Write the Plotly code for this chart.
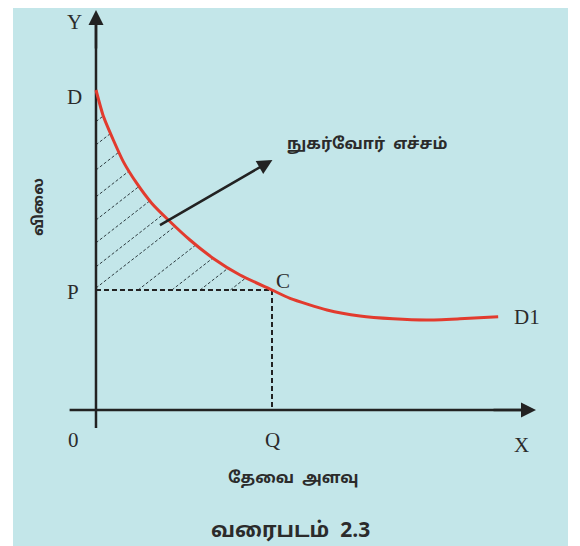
import numpy as np
import plotly.graph_objects as go

# demand curve D -> C -> D1 (price against quantity demanded)
curve_x = [0, 0.166, 0.394, 0.621, 0.925, 1.266, 1.644, 2.136, 2.667, 3.273, 4.0, 4.41, 5.25, 6.0, 6.75, 7.52, 8.27, 9.14]
curve_y = [8.0, 7.35, 6.75, 6.21, 5.67, 5.17, 4.75, 4.25, 3.79, 3.375, 3.0, 2.79, 2.5, 2.35, 2.28, 2.25, 2.28, 2.33]

# market price P and quantity Q (point C)
price_p = 3.0
qty_q = 4.0

# hatching of the consumer surplus: slope and offsets where each line crosses x=0
hatch_slope = 0.858
hatch_offsets = [7.21, 6.63, 6.0, 5.33, 4.75, 4.18, 3.58, 3.05, 2.18, 1.52, 0.97, 0.38]

# consumer surplus arrow: tail and head
surplus_tail = (1.42, 4.6)
surplus_head = (4.01, 6.25)

# axis extents (origin at 0,0)
x_axis_ends = (-0.6, 10.0)
y_axis_ends = (-0.45, 10.0)

point_labels = ["Y", "D", "P", "0", "Q", "X", "C", "D1"]
point_label_x = [-0.48, -0.48, -0.52, -0.5, 4.02, 9.68, 4.25, 9.8]
point_label_y = [9.7, 7.83, 2.95, -0.75, -0.75, -0.88, 3.23, 2.33]

AXIS_COL = "#222222"
TEXT_COL = "#2b2b2b"
CURVE_COL = "#e23b2e"
BG_COL = "#c3e6e9"
TAMIL_FONT = "Noto Sans Tamil, Noto Sans, Lato, sans-serif"
SP = "\u00a0\u00a0"

fig = go.Figure()

# hatch segments: from the P line / y axis up to where they meet the curve
grid = np.linspace(0, qty_q, 800)
curve_on_grid = np.interp(grid, curve_x, curve_y)
hx, hy = [], []
for b in hatch_offsets:
    x0 = max(0.0, (price_p - b) / hatch_slope)
    above = np.nonzero(b + hatch_slope * grid >= curve_on_grid)[0]
    if len(above) == 0:
        continue
    x1 = grid[above[0]]
    if x1 <= x0:
        continue
    hx += [x0, x1, None]
    hy += [b + hatch_slope * x0, b + hatch_slope * x1, None]
fig.add_trace(go.Scatter(
    x=hx, y=hy, mode="lines",
    line=dict(color="#2f3d42", width=1, dash="3px,2px"),
    hoverinfo="skip", showlegend=False,
))

# dashed guides P-C and C-Q
fig.add_trace(go.Scatter(
    x=[0, qty_q, qty_q], y=[price_p, price_p, 0],
    mode="lines",
    line=dict(color=AXIS_COL, width=2, dash="5px,3px"),
    hoverinfo="skip",
    showlegend=False,
))

# axes lines
fig.add_trace(go.Scatter(
    x=[x_axis_ends[0], x_axis_ends[1] - 0.2], y=[0, 0],
    mode="lines", line=dict(color=AXIS_COL, width=2.5),
    hoverinfo="skip", showlegend=False,
))
fig.add_trace(go.Scatter(
    x=[0, 0], y=[y_axis_ends[0], y_axis_ends[1] - 0.2],
    mode="lines", line=dict(color=AXIS_COL, width=2.5),
    hoverinfo="skip", showlegend=False,
))

# demand curve
fig.add_trace(go.Scatter(
    x=curve_x, y=curve_y,
    mode="lines",
    line=dict(color=CURVE_COL, width=3, shape="spline", smoothing=0.6),
    hoverinfo="skip",
    showlegend=False,
))

# arrowheads on the axes and the surplus pointer
arrows = [
    ((x_axis_ends[1], 0), (x_axis_ends[1] - 1.0, 0)),
    ((0, y_axis_ends[1]), (0, y_axis_ends[1] - 1.0)),
    (surplus_head, surplus_tail),
]
for (ex, ey), (tx, ty) in arrows:
    fig.add_annotation(
        x=ex, y=ey, ax=tx, ay=ty, xref="x", yref="y", axref="x", ayref="y",
        text="", showarrow=True, arrowhead=2, arrowsize=1.2, arrowwidth=2.5,
        arrowcolor=AXIS_COL, standoff=0, startstandoff=0,
    )

# point letters
for lab, lx, ly in zip(point_labels, point_label_x, point_label_y):
    fig.add_annotation(
        x=lx, y=ly, text=lab, showarrow=False,
        font=dict(family="Liberation Serif, serif", size=21, color=TEXT_COL),
        xanchor="center", yanchor="middle",
    )

# Tamil labels
fig.add_annotation(x=6.16, y=6.63, text="<b>நுகர்வோர்" + SP + "எச்சம்</b>", showarrow=False,
                   font=dict(family=TAMIL_FONT, size=16, color=TEXT_COL))
fig.add_annotation(x=4.48, y=-1.72, text="<b>தேவை" + SP + "அளவு</b>", showarrow=False,
                   font=dict(family=TAMIL_FONT, size=16, color=TEXT_COL))
fig.add_annotation(x=-1.27, y=5.08, text="<b>விலை</b>", showarrow=False, textangle=-90,
                   font=dict(family=TAMIL_FONT, size=15, color=TEXT_COL))
fig.add_annotation(x=4.41, y=-3.05, text="<b>வரைபடம்" + SP + "2.3</b>", showarrow=False,
                   font=dict(family=TAMIL_FONT, size=21, color=TEXT_COL))

# the page body adds an 8px margin, so the figure is 8px smaller than the window
fig.update_layout(
    width=572,
    height=538,
    margin=dict(l=5, r=12, t=0, b=0),
    paper_bgcolor="white",
    plot_bgcolor=BG_COL,
    xaxis=dict(range=[-1.886, 10.727], visible=False, fixedrange=True),
    yaxis=dict(range=[-3.4, 10.05], visible=False, fixedrange=True),
    showlegend=False,
)

fig.write_html("out.html")
